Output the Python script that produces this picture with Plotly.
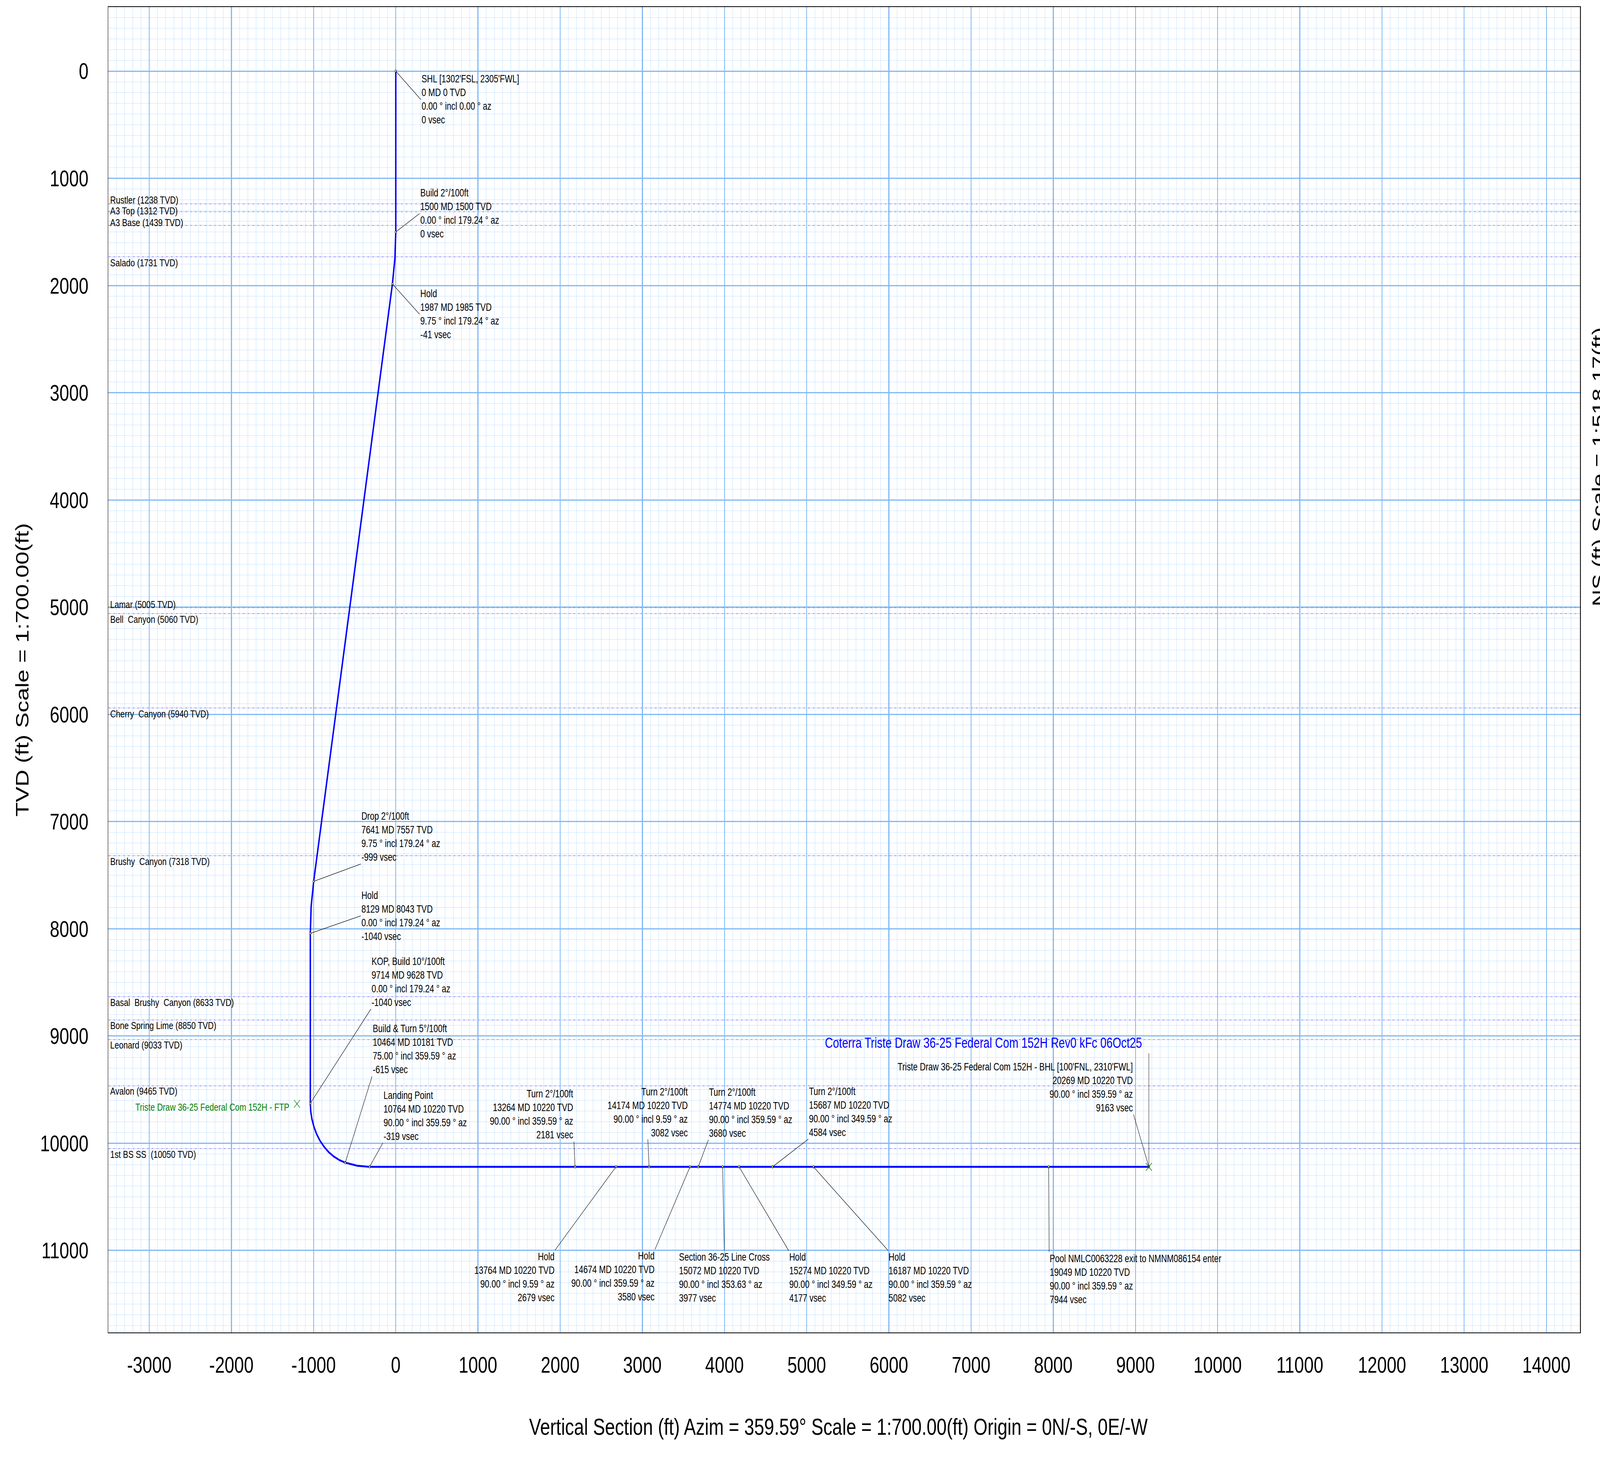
import plotly.graph_objects as go

# ---------------- data ----------------
station_names = [
    "SHL [1302'FSL, 2305'FWL]", "Build 2°/100ft", "Hold", "Drop 2°/100ft", "Hold",
    "KOP, Build 10°/100ft", "Build & Turn 5°/100ft", "Landing Point", "Turn 2°/100ft",
    "Hold", "Turn 2°/100ft", "Hold", "Turn 2°/100ft", "Section 36-25 Line Cross", "Hold",
    "Turn 2°/100ft", "Hold", "Pool NMLC0063228 exit to NMNM086154 enter",
    "Triste Draw 36-25 Federal Com 152H - BHL [100'FNL, 2310'FWL]",
]
station_md = [0, 1500, 1987, 7641, 8129, 9714, 10464, 10764, 13264, 13764, 14174,
              14674, 14774, 15072, 15274, 15687, 16187, 19049, 20269]
station_tvd = [0, 1500, 1985, 7557, 8043, 9628, 10181, 10220, 10220, 10220, 10220,
               10220, 10220, 10220, 10220, 10220, 10220, 10220, 10220]
station_incl = [0.00, 0.00, 9.75, 9.75, 0.00, 0.00, 75.00, 90.00, 90.00, 90.00, 90.00,
                90.00, 90.00, 90.00, 90.00, 90.00, 90.00, 90.00, 90.00]
station_az = [0.00, 179.24, 179.24, 179.24, 179.24, 179.24, 359.59, 359.59, 359.59, 9.59,
              9.59, 359.59, 359.59, 353.63, 349.59, 349.59, 359.59, 359.59, 359.59]
station_vsec = [0, 0, -41, -999, -1040, -1040, -615, -319, 2181, 2679, 3082, 3580, 3680,
                3977, 4177, 4584, 5082, 7944, 9163]

# well path (stations plus points read along the curved sections)
path_vsec = [0, 0, -11, -41, -999, -1030, -1040, -1040, -1035, -1020, -996, -963, -922,
             -872, -816, -754, -686, -615, -468, -319, 9163]
path_tvd = [0, 1500, 1750, 1985, 7557, 7793, 8043, 9628, 9703, 9776, 9847, 9915, 9977,
            10033, 10083, 10124, 10157, 10181, 10210, 10220, 10220]

formation_names = ["Rustler", "A3 Top", "A3 Base", "Salado", "Lamar", "Bell\u00a0 Canyon",
                   "Cherry\u00a0 Canyon", "Brushy\u00a0 Canyon", "Basal\u00a0 Brushy\u00a0 Canyon",
                   "Bone Spring Lime", "Leonard", "Avalon", "1st BS SS\u00a0"]
formation_tvd = [1238, 1312, 1439, 1731, 5005, 5060, 5940, 7318, 8633, 8850, 9033, 9465, 10050]

target_names = ["Triste Draw 36-25 Federal Com 152H - FTP", "Triste Draw 36-25 Federal Com 152H - BHL"]
target_vsec = [-1202, 9163]
target_tvd = [9632, 10220]

x_tickvals = [-3000, -2000, -1000, 0, 1000, 2000, 3000, 4000, 5000, 6000, 7000, 8000,
              9000, 10000, 11000, 12000, 13000, 14000]
x_ticktext = ["-3000", "-2000", "-1000", "0", "1000", "2000", "3000", "4000", "5000", "6000",
              "7000", "8000", "9000", "10000", "11000", "12000", "13000", "14000"]
y_tickvals = [0, 1000, 2000, 3000, 4000, 5000, 6000, 7000, 8000, 9000, 10000, 11000]
y_ticktext = ["0", "1000", "2000", "3000", "4000", "5000", "6000", "7000", "8000", "9000",
              "10000", "11000"]

plan_title = "Coterra Triste Draw 36-25 Federal Com 152H Rev0 kFc 06Oct25"
x_title = "Vertical Section (ft) Azim = 359.59° Scale = 1:700.00(ft) Origin = 0N/-S, 0E/-W"
y_title = "TVD (ft) Scale = 1:700.00(ft)"
r_title = "NS (ft) Scale = 1:518.17(ft)"

# ---------------- layout / style ----------------
W, H = 5344, 3736
ML, MR, MT, MB = 362, 66, 18, 324
FONT = "Liberation Sans, Arial, sans-serif"
LABEL_SIZE = 27
FORM_SIZE = 26.5
MAJOR_GRID = "#80B9F6"
MINOR_GRID = "#BDDDFF"
FORM_COLOR = "#7878FF"

# label placement: tail of leader (vsec, tvd), xanchor, yanchor, align
label_pos = [
    (305, 265, "left", "middle", "left"),
    (290, 1328, "left", "middle", "left"),
    (290, 2268, "left", "middle", "left"),
    (-425, 7395, "left", "bottom", "left"),
    (-425, 7879, "left", "middle", "left"),
    (-303, 8749, "left", "bottom", "left"),
    (-289, 9377, "left", "bottom", "left"),
    (-158, 9998, "left", "bottom", "left"),
    (2168, 9985, "right", "bottom", "right"),
    (1938, 10997, "right", "top", "right"),
    (3067, 9964, "center", "bottom", "right"),
    (3154, 10990, "right", "top", "right"),
    (3803, 9969, "left", "bottom", "left"),
    (3997, 11001, "center", "top", "left"),
    (4780, 11001, "left", "top", "left"),
    (5020, 9961, "left", "bottom", "left"),
    (5991, 11001, "left", "top", "left"),
    (7950, 11015, "left", "top", "left"),
    (8976, 9731, "right", "bottom", "right"),
]
# formation label centre offset from its line in px (+ = below)
form_offset = [-10, -2, -7, 16, -8, 15, 15, 15, 15, 14, 14, 13, 15]

fig = go.Figure()

fig.add_trace(go.Scatter(x=path_vsec, y=path_tvd, mode="lines",
                         line=dict(color="#0000FF", width=4.8), hoverinfo="skip",
                         showlegend=False))
fig.add_trace(go.Scatter(x=station_vsec, y=station_tvd, mode="markers",
                         marker=dict(symbol="circle", size=6, color="white",
                                     line=dict(color="black", width=1.2)),
                         hoverinfo="skip", showlegend=False))
fig.add_trace(go.Scatter(x=target_vsec, y=target_tvd, mode="markers",
                         marker=dict(symbol="x-thin-open", size=20, color="#008000",
                                     line=dict(color="#008000", width=1.5)),
                         hoverinfo="skip", showlegend=False))

# formation tops
for name, t, off in zip(formation_names, formation_tvd, form_offset):
    fig.add_shape(type="line", xref="paper", x0=0, x1=1, yref="y", y0=t, y1=t,
                  line=dict(color=FORM_COLOR, width=1.5, dash="8px,3px,2px,3px"),
                  layer="between")
    fig.add_annotation(xref="paper", x=0, xanchor="left", xshift=4, yref="y", y=t,
                       yanchor="middle", yshift=-off, showarrow=False,
                       text=f"{name} ({t} TVD)",
                       font=dict(family=FONT, size=FORM_SIZE, color="black"))

# station labels
for i, name in enumerate(station_names):
    txt = (f"{name}<br>{station_md[i]} MD {station_tvd[i]} TVD<br>"
           f"{station_incl[i]:.2f} ° incl {station_az[i]:.2f} ° az<br>{station_vsec[i]} vsec")
    tv, tt, xa, ya, al = label_pos[i]
    fig.add_annotation(x=station_vsec[i], y=station_tvd[i], xref="x", yref="y",
                       ax=tv, ay=tt, axref="x", ayref="y", showarrow=True,
                       arrowhead=0, arrowwidth=1.3, arrowcolor="black", standoff=0,
                       xanchor=xa, yanchor=ya, align=al, text=txt,
                       font=dict(family=FONT, size=LABEL_SIZE, color="black"))

# BHL vertical tick line
fig.add_shape(type="line", xref="x", yref="y", x0=target_vsec[1], x1=target_vsec[1],
              y0=target_tvd[1], y1=9160, line=dict(color="black", width=1))

# FTP label
fig.add_annotation(x=target_vsec[0], y=target_tvd[0], xref="x", yref="y", showarrow=False,
                   xanchor="right", yanchor="middle", xshift=-24, yshift=-9,
                   text=target_names[0], font=dict(family=FONT, size=FORM_SIZE, color="#008000"))

# plan title
fig.add_annotation(x=5212, y=9063, xref="x", yref="y", showarrow=False, xanchor="left",
                   yanchor="middle", text=plan_title,
                   font=dict(family=FONT, size=36.8, color="#0000FF"))

# axis titles
PW, PH = W - ML - MR, H - MT - MB
fig.add_annotation(xref="paper", yref="paper", x=(2800 - ML) / PW, y=-(3653 - (H - MB)) / PH,
                   xanchor="center", yanchor="middle", showarrow=False, text=x_title,
                   font=dict(family=FONT, size=60, color="black"))
fig.add_annotation(xref="paper", yref="paper", x=(74 - ML) / PW, y=0.5, textangle=-90,
                   xanchor="center", yanchor="middle", showarrow=False, text=y_title,
                   font=dict(family=FONT, size=60, color="black"))
fig.add_annotation(xref="paper", yref="paper", x=(5341 - ML) / PW, y=((H - MB) - 1195) / PH,
                   textangle=-90, xanchor="center", yanchor="middle", showarrow=False,
                   text=r_title, font=dict(family=FONT, size=60, color="black"))

axis_common = dict(showgrid=True, gridcolor=MAJOR_GRID, gridwidth=2.7, zeroline=False,
                   showline=True, mirror=True, linecolor="black", linewidth=2,
                   ticks="outside", tickcolor="rgba(0,0,0,0)",
                   tickfont=dict(family=FONT, size=58, color="black"),
                   tickmode="array")
fig.update_xaxes(range=[-3497, 14412], tickvals=x_tickvals, ticktext=x_ticktext, ticklen=31,
                 minor=dict(tickmode="linear", tick0=0, dtick=100, showgrid=True,
                            gridcolor=MINOR_GRID, gridwidth=1.3, ticks=""),
                 **axis_common)
fig.update_yaxes(range=[11765, -598], tickvals=y_tickvals, ticktext=y_ticktext, ticklen=53,
                 minor=dict(tickmode="linear", tick0=0, dtick=100, showgrid=True,
                            gridcolor=MINOR_GRID, gridwidth=1.3, ticks=""),
                 **axis_common)

fig.update_layout(width=W, height=H, margin=dict(l=ML, r=MR, t=MT, b=MB, autoexpand=False),
                  paper_bgcolor="white", plot_bgcolor="white", showlegend=False,
                  font=dict(family=FONT, color="black"))

# fit the 5344x3736 figure into whatever viewport the browser really provides
fit_js = (
    "document.documentElement.style.margin='0';document.body.style.margin='0';"
    "document.documentElement.style.overflow='hidden';document.body.style.overflow='hidden';"
    "var gd=document.getElementById('{plot_id}');"
    "var sx=window.innerWidth/%d, sy=window.innerHeight/%d;"
    "if(Math.abs(sx-1)>0.001||Math.abs(sy-1)>0.001){"
    "gd.style.transformOrigin='0 0';gd.style.transform='scale('+sx+','+sy+')';}" % (W, H)
)
fig.write_html("out.html", config={"displayModeBar": False}, post_script=fit_js)
